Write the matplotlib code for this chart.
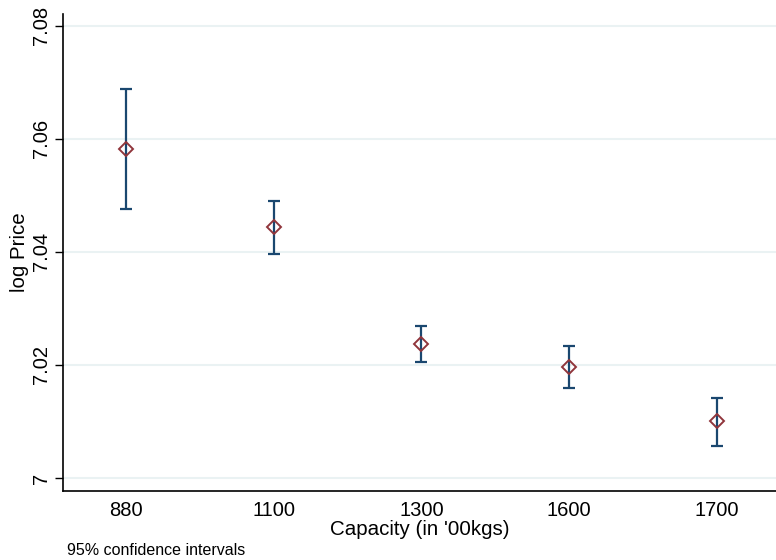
import numpy as np
import matplotlib.pyplot as plt

plt.rcParams['font.family'] = ['Liberation Sans', 'DejaVu Sans']

# Margins by capacity group
capacity = ['880', '1100', '1300', '1600', '1700']
log_price = [7.0582, 7.0444, 7.0237, 7.0196, 7.0101]
ci_low = [7.0476, 7.0396, 7.0205, 7.0159, 7.0057]
ci_high = [7.0688, 7.0490, 7.0269, 7.0234, 7.0142]
yticks = [7, 7.02, 7.04, 7.06, 7.08]

navy = '#1a476f'
maroon = '#90353b'

x = np.arange(1, len(capacity) + 1)
y = np.array(log_price)
err = [y - np.array(ci_low), np.array(ci_high) - y]

fig = plt.figure(figsize=(7.76, 5.6), dpi=100)
ax = fig.add_axes([0.0812, 0.1232, 0.9188, 0.852])

for t in yticks:
    ax.axhline(t, color='#eaf2f3', lw=1.5, zorder=0)

ax.errorbar(x, y, yerr=err, fmt='none', ecolor=navy, elinewidth=1.6,
            capsize=4.5, capthick=1.6, zorder=2)
ax.plot(x, y, 'D', markersize=7.5, markerfacecolor='none',
        markeredgecolor=maroon, markeredgewidth=1.4, zorder=3)

ax.set_xlim(0.574, 5.4)
ax.set_ylim(6.9977, 7.0821)
ax.set_xticks(x)
ax.set_xticklabels(capacity, fontsize=14.5)
ax.set_yticks(yticks)
ax.set_yticklabels(['7', '7.02', '7.04', '7.06', '7.08'], fontsize=14.5,
                   rotation=90, va='center')
ax.tick_params(axis='x', length=0, pad=7)
ax.tick_params(axis='y', length=6, width=1, pad=3)

for s in ['top', 'right']:
    ax.spines[s].set_visible(False)
ax.spines['left'].set_linewidth(1.2)
ax.spines['bottom'].set_linewidth(1.2)

ax.set_xlabel("Capacity (in '00kgs)", fontsize=14.8, labelpad=0)
ax.set_ylabel('log Price', fontsize=14.8, labelpad=2)

fig.text(0.086, 0.003, '95% confidence intervals', fontsize=11.5, va='bottom')

fig.savefig('out.png', dpi=100)
